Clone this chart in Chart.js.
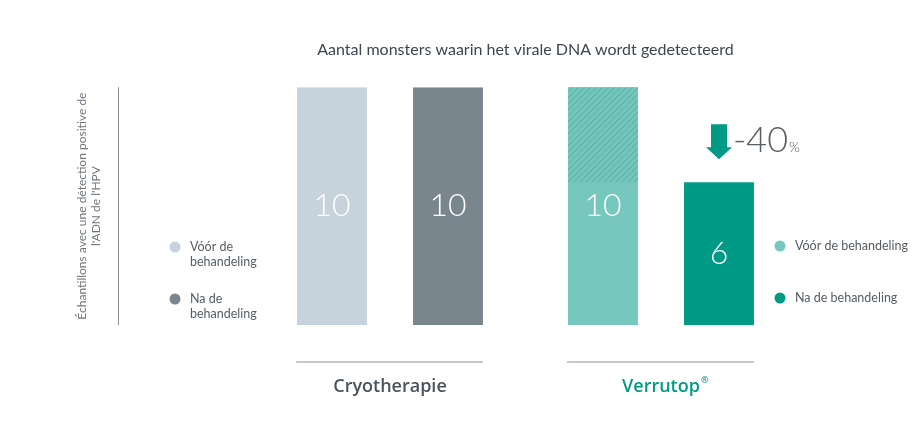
<!DOCTYPE html>
<html>
<head>
<meta charset="utf-8">
<script src="https://cdn.jsdelivr.net/npm/chart.js@4/dist/chart.umd.min.js"></script>
<style>
  html, body { margin: 0; padding: 0; background: #fff; }
  #wrap { width: 919px; height: 439px; }
</style>
</head>
<body>
<div id="wrap"><canvas id="myChart" width="919" height="439"></canvas></div>
<script>
// data
const groups = ['Cryotherapie', 'Verrutop®'];
const seriesNames = ['Vóór de behandeling', 'Na de behandeling'];
const voorValues = [10, 10];
const naValues = [10, 6];
const yAxisTitle = ['Échantillons avec une détection positive de', "l'ADN de l'HPV"];
const chartTitle = 'Aantal monsters waarin het virale DNA wordt gedetecteerd';

// colours per group
const voorColors = ['#c6d3dc', '#76c8bf'];
const naColors = ['#7a868d', '#009a86'];
const groupLabelColors = ['#4a525b', '#009a86'];

const FONT = "Lato, 'Open Sans', sans-serif";
const TICK_FONT = { family: "'Open Sans', sans-serif", size: 18, weight: '600' };

// hatch used for the reduction part of the Verrutop bar
function makeHatch() {
    const c = document.createElement('canvas');
    c.width = 6; c.height = 6;
    const g = c.getContext('2d');
    g.fillStyle = '#76c8bf';
    g.fillRect(0, 0, 6, 6);
    g.strokeStyle = '#64b8ad';
    g.lineWidth = 1.6;
    g.beginPath();
    g.moveTo(-1, 7); g.lineTo(7, -1);
    g.moveTo(-4, 4); g.lineTo(4, -4);
    g.moveTo(2, 10); g.lineTo(10, 2);
    g.stroke();
    return g.createPattern(c, 'repeat');
}

function drawLegend(ctx, x, y, colors, lines, gap) {
    ctx.font = '12.5px ' + FONT;
    ctx.textBaseline = 'middle';
    ctx.textAlign = 'left';
    colors.forEach((col, i) => {
        const cy = y + i * gap;
        ctx.fillStyle = col;
        ctx.beginPath();
        ctx.arc(x, cy, 5.5, 0, Math.PI * 2);
        ctx.fill();
        ctx.fillStyle = '#555d63';
        lines[i].forEach((t, j) => ctx.fillText(t, x + 15, cy + j * 15));
    });
}

const decorPlugin = {
    id: 'decor',
    afterDatasetsDraw(chart) {
        const ctx = chart.ctx;
        const area = chart.chartArea;
        const y = chart.scales.y;
        const m0 = chart.getDatasetMeta(0);
        const m1 = chart.getDatasetMeta(1);
        ctx.save();

        // hatched reduction on the "before" bars
        const hatch = makeHatch();
        voorValues.forEach((v, i) => {
            if (naValues[i] >= v) return;
            const bar = m0.data[i];
            const top = y.getPixelForValue(v);
            const bot = y.getPixelForValue(naValues[i]);
            ctx.fillStyle = hatch;
            ctx.fillRect(bar.x - bar.width / 2, top, bar.width, bot - top);
        });

        // value labels inside bars
        ctx.fillStyle = '#fff';
        ctx.font = '300 32px ' + FONT;
        ctx.textAlign = 'center';
        ctx.textBaseline = 'middle';
        [m0, m1].forEach((meta, d) => {
            const vals = d === 0 ? voorValues : naValues;
            meta.data.forEach((bar, i) => {
                ctx.fillText(String(vals[i]), bar.x, (bar.y + bar.base) / 2);
            });
        });

        // y axis line
        ctx.strokeStyle = '#8a9096';
        ctx.lineWidth = 1;
        ctx.beginPath();
        ctx.moveTo(118.5, area.top);
        ctx.lineTo(118.5, area.bottom);
        ctx.stroke();

        // line under each group
        ctx.strokeStyle = '#b0b5ba';
        ctx.lineWidth = 1.5;
        groups.forEach((g, i) => {
            const a = m0.data[i], b = m1.data[i];
            ctx.beginPath();
            ctx.moveTo(a.x - a.width / 2 - 1, area.bottom + 37);
            ctx.lineTo(b.x + b.width / 2, area.bottom + 37);
            ctx.stroke();
        });

        // small superscript ® after a group label
        const xs = chart.scales.x;
        groups.forEach((g, i) => {
            if (!g.endsWith('®')) return;
            const base = g.slice(0, -1);
            ctx.font = TICK_FONT.weight + ' ' + TICK_FONT.size + 'px ' + TICK_FONT.family;
            const w = ctx.measureText(base).width;
            ctx.font = '600 9px ' + TICK_FONT.family;
            ctx.fillStyle = groupLabelColors[i];
            ctx.textAlign = 'left';
            ctx.textBaseline = 'middle';
            ctx.fillText('®', xs.getPixelForValue(i) + w / 2 + 1, area.bottom + 55);
        });

        // arrow + percentage for the Verrutop group
        const i = 1;
        const bar = m1.data[i];
        const tip = bar.y - 23;
        ctx.fillStyle = naColors[i];
        ctx.beginPath();
        ctx.moveTo(bar.x - 8, tip - 35);
        ctx.lineTo(bar.x + 8, tip - 35);
        ctx.lineTo(bar.x + 8, tip - 12);
        ctx.lineTo(bar.x + 13, tip - 12);
        ctx.lineTo(bar.x, tip);
        ctx.lineTo(bar.x - 13, tip - 12);
        ctx.lineTo(bar.x - 8, tip - 12);
        ctx.closePath();
        ctx.fill();
        const pct = Math.round((naValues[i] - voorValues[i]) / voorValues[i] * 100);
        ctx.fillStyle = '#5a6066';
        ctx.textAlign = 'left';
        ctx.textBaseline = 'alphabetic';
        ctx.font = '300 36px ' + FONT;
        const txt = String(pct);
        ctx.fillText(txt, bar.x + 14, tip - 7);
        const w = ctx.measureText(txt).width;
        ctx.font = '300 14px ' + FONT;
        ctx.fillText('%', bar.x + 15 + w, tip - 7);

        // legends
        drawLegend(ctx, 175, 247, [voorColors[0], naColors[0]],
            [['Vóór de', 'behandeling'], ['Na de', 'behandeling']], 52);
        drawLegend(ctx, 780, 246, [voorColors[1], naColors[1]],
            [[seriesNames[0]], [seriesNames[1]]], 52);

        ctx.restore();
    }
};

const ctx = document.getElementById('myChart').getContext('2d');
const myChart = new Chart(ctx, {
    type: 'bar',
    data: {
        labels: groups,
        datasets: [
            { label: seriesNames[0], data: voorValues, backgroundColor: voorColors },
            { label: seriesNames[1], data: naValues, backgroundColor: naColors }
        ]
    },
    options: {
        responsive: false,
        animation: false,
        categoryPercentage: 0.856,
        barPercentage: 0.603,
        layout: { padding: { left: 71, right: 122.5, top: 0, bottom: 41 } },
        plugins: {
            legend: { display: false },
            tooltip: { enabled: false },
            title: {
                display: true,
                text: chartTitle,
                fullSize: false,
                color: '#3d4650',
                font: { family: FONT, size: 16, weight: 'normal' },
                padding: { top: 40, bottom: 28 }
            }
        },
        scales: {
            x: {
                grid: { display: false, drawTicks: false },
                border: { display: false },
                ticks: {
                    padding: 51,
                    color: groupLabelColors,
                    font: TICK_FONT,
                    callback: (v, i) => groups[i].replace('®', '')
                },
                afterFit: (scale) => { scale.height = 73; }
            },
            y: {
                min: 0,
                max: 10,
                grid: { display: false, drawTicks: false },
                border: { display: false },
                ticks: { display: false },
                title: {
                    display: true,
                    text: yAxisTitle,
                    color: '#6f767c',
                    font: { family: FONT, size: 12 },
                    padding: { top: 4, bottom: 0 }
                },
                afterFit: (scale) => { scale.width = 183.5; }
            }
        }
    },
    plugins: [decorPlugin]
});
</script>
</body>
</html>
